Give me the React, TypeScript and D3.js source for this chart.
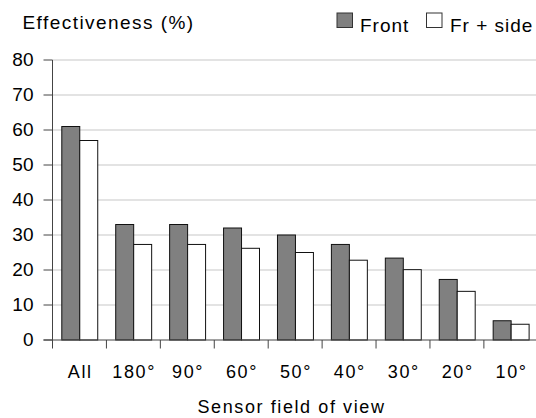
import React from "react";
import * as d3 from "d3";

const categories = ["All", "180°", "90°", "60°", "50°", "40°", "30°", "20°", "10°"];
const frontValues = [61, 33, 33, 32, 30, 27.3, 23.4, 17.3, 5.5];
const sideValues = [57, 27.3, 27.3, 26.2, 25, 22.8, 20.1, 13.9, 4.5];
const yTicks = [0, 10, 20, 30, 40, 50, 60, 70, 80];
const seriesNames = ["Front", "Fr + side"];

const W = 536;
const H = 418;
const left = 52.5;
const right = 537.8;
const top = 60;
const bottom = 340;
const font = "'Liberation Sans', Arial, sans-serif";

export default function App() {
  const x = d3.scaleBand<string>().domain(categories).range([left, right]).paddingInner(0).paddingOuter(0);
  const y = d3.scaleLinear().domain([0, 80]).range([bottom, top]);
  const bw = x.bandwidth();
  const inner = d3.scaleBand<number>().domain([0, 1]).range([bw / 6 + 0.3, bw - bw / 6 + 0.3]);
  const barW = inner.bandwidth();

  return (
    <svg width={W} height={H} style={{ position: "absolute", left: 0, top: 0 }} fontFamily={font}>
      <rect x={0} y={0} width={W} height={H} fill="#fff" />
      {yTicks.filter((t) => t > 0).map((t) => (
        <line key={"g" + t} x1={left} x2={W} y1={y(t)} y2={y(t)} stroke="#c8c8c8" strokeWidth={1.2} />
      ))}
      {categories.map((c, i) => (
        <g key={c}>
          <rect
            x={(x(c) ?? 0) + inner(0)!}
            y={y(frontValues[i])}
            width={barW}
            height={y(0) - y(frontValues[i])}
            fill="#808080"
            stroke="#111"
            strokeWidth={1}
          />
          <rect
            x={(x(c) ?? 0) + inner(1)!}
            y={y(sideValues[i])}
            width={barW}
            height={y(0) - y(sideValues[i])}
            fill="#fff"
            stroke="#111"
            strokeWidth={1}
          />
        </g>
      ))}
      <line x1={left} x2={left} y1={top} y2={bottom} stroke="#444" strokeWidth={1} />
      <line x1={left - 9} x2={W} y1={bottom} y2={bottom} stroke="#444" strokeWidth={1} />
      {yTicks.map((t) => (
        <g key={"t" + t}>
          <line x1={left - 9} x2={left} y1={y(t)} y2={y(t)} stroke="#444" strokeWidth={1} />
          <text x={33.5} y={y(t)} dy="0.3em" textAnchor="end" fontSize={19} fill="#000">
            {t}
          </text>
        </g>
      ))}
      {categories.map((c) => (
        <line key={"xt" + c} x1={x(c)!} x2={x(c)!} y1={bottom} y2={bottom + 8.5} stroke="#444" strokeWidth={1} />
      ))}
      {categories.map((c) => (
        <text
          key={"xl" + c}
          x={x(c)! + bw / 2 + 0.8}
          y={377.7}
          textAnchor="middle"
          fontSize={18}
          letterSpacing={1.6}
          fill="#000"
        >
          {c}
        </text>
      ))}
      <text x={291.5} y={413} textAnchor="middle" fontSize={18} letterSpacing={1.6} fill="#000">
        Sensor field of view
      </text>
      <text x={22.5} y={29.3} fontSize={19} letterSpacing={1.45} fill="#000">
        Effectiveness (%)
      </text>
      <rect x={337} y={13} width={15.5} height={14.5} fill="#808080" stroke="#333" strokeWidth={1} />
      <text x={360} y={31.5} fontSize={19} letterSpacing={1} fill="#000">
        {seriesNames[0]}
      </text>
      <rect x={426.5} y={13} width={15.5} height={14.5} fill="#fff" stroke="#333" strokeWidth={1} />
      <text x={450} y={31.5} fontSize={19} letterSpacing={1} fill="#000">
        {seriesNames[1]}
      </text>
    </svg>
  );
}
